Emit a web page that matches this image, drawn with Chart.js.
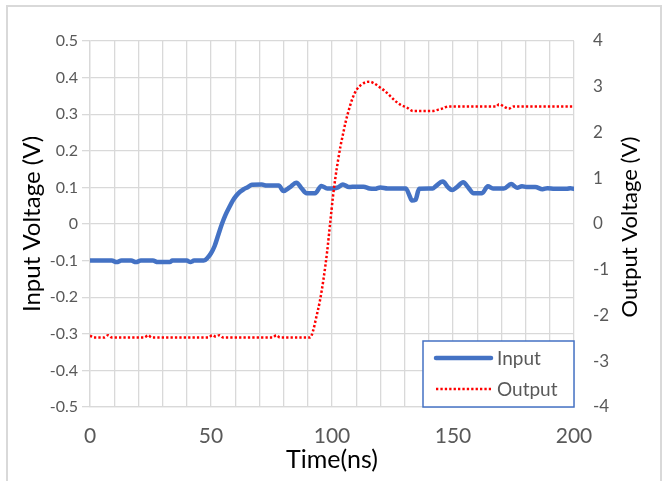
<!DOCTYPE html>
<html>
<head>
<meta charset="utf-8">
<script src="https://cdn.jsdelivr.net/npm/chart.js@4/dist/chart.umd.min.js"></script>
<style>
  html, body { margin: 0; padding: 0; background: #fff; }
  #wrap { position: relative; width: 663px; height: 481px; }
</style>
</head>
<body>
<div id="wrap"><canvas id="pulse-chart"></canvas></div>
<script>
const inTime = [0, 9, 11, 13, 17, 19, 21, 26, 28, 33, 34, 40, 41.5, 43, 47, 48.5, 50, 51.5, 53,
  54.5, 56, 57.5, 59, 60.5, 62, 63.5, 65, 67, 71, 73, 78, 80, 82.5, 85.3, 87.5, 89.5, 93,
  95.6, 98, 100, 102.5, 104.5, 107, 110, 113, 115.5, 117.7, 120, 123, 130.5, 132, 133, 134.5,
  136, 141.6, 142.8, 145.8, 148, 149.6, 151.5, 154.2, 156.5, 158.5, 162, 164.4, 166.5, 168.5,
  171, 174, 176.5, 178.5, 180.4, 184, 187, 189, 192, 197, 198.5, 200];
const inVolt = [-0.1, -0.1, -0.104, -0.1, -0.1, -0.104, -0.1, -0.1, -0.104, -0.104, -0.1, -0.1,
  -0.104, -0.1, -0.1, -0.093, -0.08, -0.06, -0.03, 0.0, 0.025, 0.045, 0.064, 0.078, 0.088,
  0.095, 0.1, 0.107, 0.108, 0.105, 0.105, 0.09, 0.1, 0.113, 0.097, 0.084, 0.084, 0.104, 0.097,
  0.097, 0.1, 0.108, 0.101, 0.102, 0.102, 0.097, 0.096, 0.1, 0.097, 0.097, 0.078, 0.064, 0.066,
  0.096, 0.097, 0.103, 0.116, 0.1, 0.093, 0.1, 0.114, 0.098, 0.084, 0.084, 0.103, 0.097, 0.097,
  0.097, 0.109, 0.099, 0.103, 0.101, 0.101, 0.095, 0.098, 0.096, 0.096, 0.098, 0.096];

const outTime = [0, 1.5, 6, 7.5, 9, 22.5, 24, 25.5, 49, 50.5, 52, 53.5, 55, 75.5, 77, 78.5, 91,
  92.2, 93.5, 95, 96.5, 98, 99.2, 100.4, 101.5, 102.5, 103.5, 104.5, 105.5, 107, 108.5, 110,
  112, 114, 115.6, 117.5, 119.7, 122, 124, 126.6, 128.5, 130.8, 133.5, 141.5, 144, 146, 148,
  168, 169, 171, 173, 175, 200];
const outVolt = [-2.44, -2.48, -2.48, -2.43, -2.48, -2.48, -2.43, -2.48, -2.48, -2.43, -2.46,
  -2.43, -2.48, -2.48, -2.43, -2.48, -2.48, -2.33, -2.04, -1.68, -1.2, -0.6, 0.0, 0.6, 1.05,
  1.39, 1.7, 1.95, 2.2, 2.5, 2.75, 2.92, 3.04, 3.1, 3.11, 3.07, 2.99, 2.9, 2.8, 2.67, 2.6,
  2.55, 2.47, 2.47, 2.5, 2.53, 2.57, 2.57, 2.62, 2.57, 2.52, 2.57, 2.57];

const xTicksShown = [0, 50, 100, 150, 200];

const BLUE = '#4472C4';
const RED  = '#FF0000';
const GRID = '#d9d9d9';
const TICK = '#595959';
const FONT = 'Lato, "Noto Sans", sans-serif';

// grey frame round the picture (no bottom edge)
const framePlugin = {
  id: 'frame',
  beforeDraw(chart) {
    const c = chart.ctx;
    c.save();
    c.strokeStyle = GRID;
    c.lineWidth = 2;
    c.beginPath();
    c.moveTo(7, 481); c.lineTo(7, 6); c.lineTo(661, 6); c.lineTo(661, 481);
    c.stroke();
    c.restore();
  }
};

// right title reads bottom-to-top like Excel, and a boxed legend in the corner
const extrasPlugin = {
  id: 'extras',
  afterDraw(chart) {
    const c = chart.ctx;
    const a = chart.chartArea;
    c.save();

    c.font = '22px ' + FONT;
    c.fillStyle = '#000';
    c.textAlign = 'center';
    c.textBaseline = 'middle';
    c.translate(630, (a.top + a.bottom) / 2 + 3);
    c.rotate(-Math.PI / 2);
    c.fillText('Output Voltage (V)', 0, 0);
    c.setTransform(1, 0, 0, 1, 0, 0);

    const w = 151, h = 66;
    const bx = a.right - w, by = a.bottom - h;
    c.fillStyle = '#fff';
    c.fillRect(bx, by, w, h);
    c.strokeStyle = BLUE;
    c.lineWidth = 1.5;
    c.strokeRect(bx, by, w, h);

    c.font = '19px ' + FONT;
    c.textAlign = 'left';
    chart.data.datasets.forEach((ds, i) => {
      const y = by + 17 + i * 31;
      c.strokeStyle = ds.borderColor;
      c.lineWidth = ds.borderWidth;
      c.setLineDash(ds.borderDash || []);
      c.lineCap = ds.borderDash ? 'butt' : 'round';
      c.beginPath();
      c.moveTo(bx + 13, y); c.lineTo(bx + 68, y);
      c.stroke();
      c.setLineDash([]);
      c.fillStyle = TICK;
      c.fillText(ds.label, bx + 74, y + 1);
    });
    c.restore();
  }
};

const ctx = document.getElementById('pulse-chart').getContext('2d');
new Chart(ctx, {
  type: 'line',
  data: {
    datasets: [
      {
        label: 'Input',
        data: inTime.map((t, i) => ({ x: t, y: inVolt[i] })),
        yAxisID: 'y',
        borderColor: BLUE,
        borderWidth: 4.5,
        pointRadius: 0,
        borderJoinStyle: 'round',
        borderCapStyle: 'round',
        cubicInterpolationMode: 'monotone',
        order: 2,
      },
      {
        label: 'Output',
        data: outTime.map((t, i) => ({ x: t, y: outVolt[i] })),
        yAxisID: 'y2',
        borderColor: RED,
        borderWidth: 2.5,
        borderDash: [2.3, 2.1],
        pointRadius: 0,
        cubicInterpolationMode: 'monotone',
        order: 1,
      },
    ],
  },
  options: {
    responsive: true,
    maintainAspectRatio: false,
    animation: false,
    layout: { padding: { left: 8, right: 8, top: 41, bottom: 8 } },
    plugins: { legend: { display: false }, tooltip: { enabled: false } },
    scales: {
      x: {
        type: 'linear',
        min: 0, max: 200,
        grid: { color: GRID, lineWidth: 1.3, drawTicks: false },
        border: { color: GRID, width: 1.3 },
        ticks: {
          stepSize: 10, autoSkip: false, maxRotation: 0, padding: 17,
          color: TICK, font: { family: FONT, size: 21 },
          callback: v => xTicksShown.includes(v) ? String(v) : '',
        },
        title: { display: true, text: 'Time(ns)', color: '#000',
                 font: { family: FONT, size: 25 }, padding: { top: 0, bottom: -2 } },
        afterFit: s => { s.height = 66; },
      },
      y: {
        position: 'left',
        min: -0.5, max: 0.5,
        grid: { color: GRID, lineWidth: 1.3, tickLength: 8 },
        border: { color: GRID, width: 1.3 },
        ticks: {
          stepSize: 0.1, padding: 4, color: TICK, font: { family: FONT, size: 16 },
          callback: v => String(Math.round(v * 10) / 10),
        },
        title: { display: true, text: 'Input Voltage (V)', color: '#000',
                 font: { family: FONT, size: 24 }, padding: { top: 10, bottom: 0 } },
        afterFit: s => { s.width = 82; },
      },
      y2: {
        position: 'right',
        min: -4, max: 4,
        grid: { display: false },
        border: { display: false },
        ticks: { stepSize: 1, padding: 11, color: TICK, font: { family: FONT, size: 17 } },
        afterFit: s => { s.width = 81; },
      },
    },
  },
  plugins: [framePlugin, extrasPlugin],
});
</script>
</body>
</html>
